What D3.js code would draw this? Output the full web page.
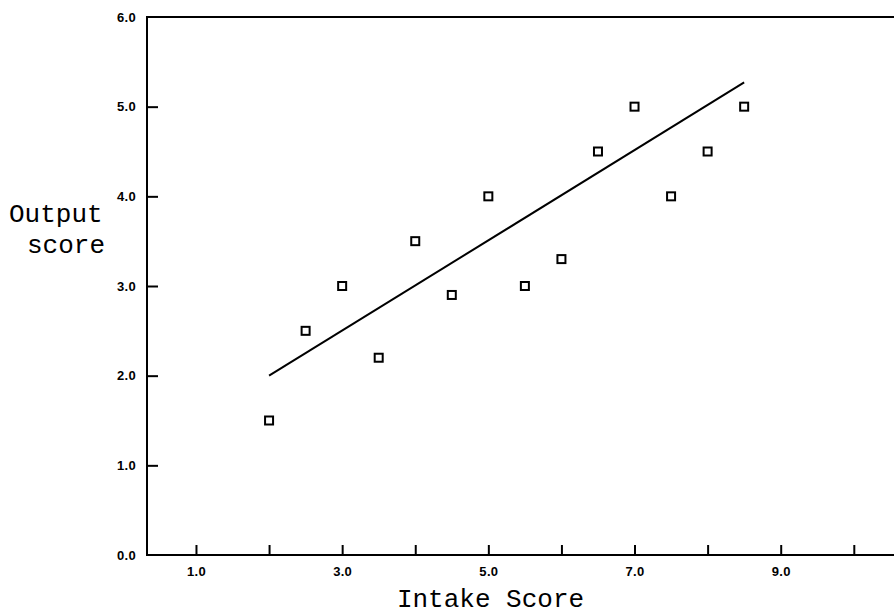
<!DOCTYPE html>
<html>
<head>
<meta charset="utf-8">
<script src="https://cdn.jsdelivr.net/npm/d3@7/dist/d3.min.js"></script>
<style>
  html, body { margin: 0; padding: 0; background: #fff; }
  svg { display: block; }
  .tick text { font-family: "Liberation Sans", Arial, sans-serif; font-weight: bold; font-size: 13px; fill: #000; letter-spacing: 0.3px; }
  .title { font-family: "Liberation Mono", "Courier New", monospace; font-size: 26px; fill: #000; }
</style>
</head>
<body>
<script>
// ---- data ----
const intake = [2.0, 2.5, 3.0, 3.5, 4.0, 4.5, 5.0, 5.5, 6.0, 6.5, 7.0, 7.5, 8.0, 8.5];
const output = [1.5, 2.5, 3.0, 2.2, 3.5, 2.9, 4.0, 3.0, 3.3, 4.5, 5.0, 4.0, 4.5, 5.0];
const fitX = [2.0, 8.5];
const fitY = [2.0, 5.27];
const xTicks = [1, 2, 3, 4, 5, 6, 7, 8, 9, 10];
const xLabelTicks = [1, 3, 5, 7, 9];
const yTicks = [0, 1, 2, 3, 4, 5, 6];
const xDomain = [0.33, 10.55];
const yDomain = [0, 6];
const xTitle = "Intake Score";
const yTitleLines = ["Output", "score"];

// ---- layout ----
const W = 894, H = 614;
const mLeft = 147, mRight = 894, mTop = 17, mBottom = 555;

const svg = d3.select("body").append("svg").attr("width", W).attr("height", H);

const x = d3.scaleLinear().domain(xDomain).range([mLeft, mRight]);
const y = d3.scaleLinear().domain(yDomain).range([mBottom, mTop]);

// x axis (ticks pointing up, inside)
const xAxis = d3.axisBottom(x)
  .tickValues(xTicks)
  .tickSize(-10)
  .tickPadding(12)
  .tickFormat(d => xLabelTicks.includes(d) ? d3.format(".1f")(d) : "");
const gx = svg.append("g").attr("transform", `translate(0,${mBottom})`).call(xAxis);
gx.select(".domain").remove();
gx.selectAll(".tick line").attr("stroke", "#000").attr("stroke-width", 2);
gx.selectAll(".tick text").attr("dy", "0.71em");

// y axis (ticks pointing right, inside)
const yAxis = d3.axisLeft(y)
  .tickValues(yTicks)
  .tickSize(-11)
  .tickPadding(11)
  .tickFormat(d3.format(".1f"));
const gy = svg.append("g").attr("transform", `translate(${mLeft},0)`).call(yAxis);
gy.select(".domain").remove();
gy.selectAll(".tick line").attr("stroke", "#000").attr("stroke-width", 2)
  .attr("display", d => (d === yDomain[0] || d === yDomain[1]) ? "none" : null);

// frame: left, bottom, top
const frame = d3.line();
svg.append("path")
  .attr("d", frame([[x(xDomain[1]), y(yDomain[1])], [x(xDomain[0]), y(yDomain[1])], [x(xDomain[0]), y(yDomain[0])], [x(xDomain[1]), y(yDomain[0])]]))
  .attr("fill", "none").attr("stroke", "#000").attr("stroke-width", 2);

// fit line
svg.append("path")
  .datum(fitX.map((v, i) => [v, fitY[i]]))
  .attr("d", d3.line().x(d => x(d[0])).y(d => y(d[1])))
  .attr("fill", "none").attr("stroke", "#000").attr("stroke-width", 2);

// points (open squares)
const s = 8;
svg.append("g").selectAll("rect")
  .data(intake.map((v, i) => [v, output[i]]))
  .join("rect")
  .attr("x", d => x(d[0]) - s / 2)
  .attr("y", d => y(d[1]) - s / 2)
  .attr("width", s).attr("height", s)
  .attr("fill", "#fff").attr("stroke", "#000").attr("stroke-width", 2);

// titles
svg.append("text").attr("class", "title")
  .attr("x", (x(xDomain[0]) + x(xDomain[1])) / 2 - 30).attr("y", 607)
  .attr("text-anchor", "middle").text(xTitle);

svg.append("text").attr("class", "title")
  .attr("x", 9).attr("y", 222).text(yTitleLines[0]);
svg.append("text").attr("class", "title")
  .attr("x", 27).attr("y", 253).text(yTitleLines[1]);
</script>
</body>
</html>
